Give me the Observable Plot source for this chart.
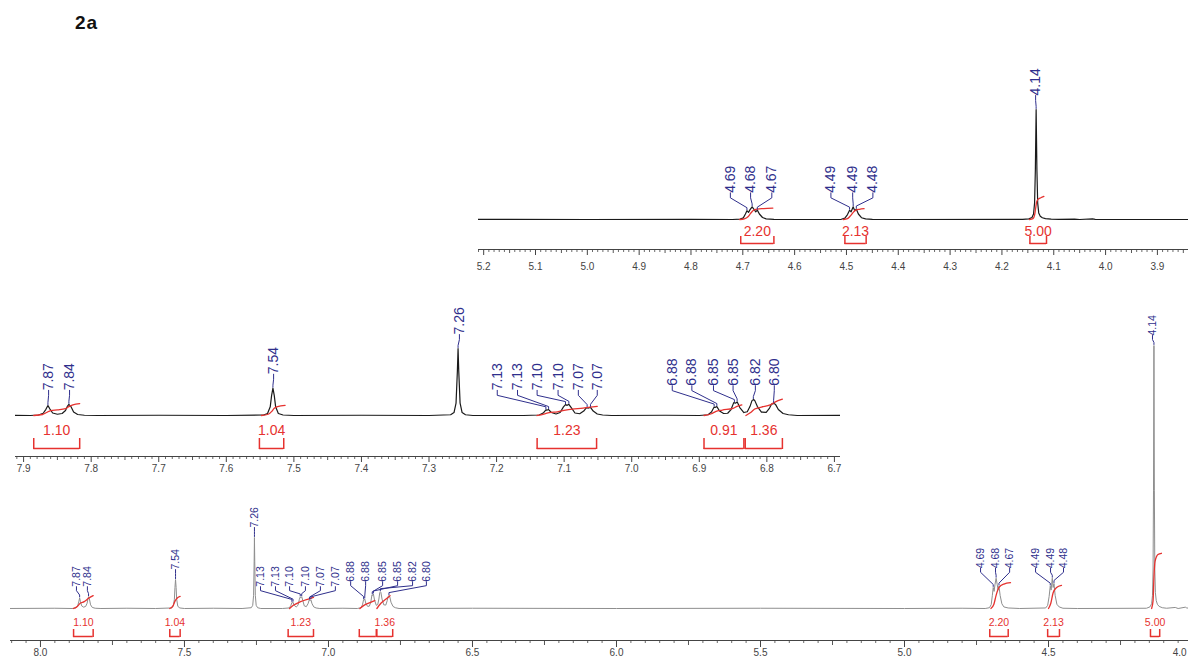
<!DOCTYPE html>
<html><head><meta charset="utf-8">
<script src="https://cdn.jsdelivr.net/npm/d3@7"></script>
<script src="https://cdn.jsdelivr.net/npm/@observablehq/plot@0.6"></script>
<style>
html,body{margin:0;padding:0;background:#fff;}
#wrap{position:relative;width:1188px;height:657px;overflow:hidden;background:#fff;}
#wrap svg{position:absolute;left:0;top:0;background:transparent !important;}
#title{position:absolute;left:75px;top:12px;font:bold 19px "Liberation Sans",Arial,sans-serif;letter-spacing:1px;color:#111;z-index:5;}
</style></head><body>
<div id="wrap"><div id="title">2a</div></div>
<script>
// ---- spectrum trace: [ppm, intensity] (4.14 singlet = 100)
const spectrum = [
[8.11,0],[7.95,0.1],[7.89,0],
[7.878,0.2],[7.871,0.9],[7.867,2.5],[7.864,4.0],[7.861,2.6],[7.857,1.0],[7.850,0.5],
[7.843,0.8],[7.838,2.0],[7.835,3.8],[7.833,4.5],[7.830,3.6],[7.826,1.4],[7.820,0.4],[7.810,0.1],[7.790,0],
[7.700,0.1],[7.600,0],
[7.545,0.2],[7.539,0.8],[7.535,3.5],[7.533,8],[7.531,11],[7.529,8],[7.527,3.5],[7.523,0.8],[7.516,0.2],[7.500,0],
[7.400,0.1],[7.300,0],
[7.268,0.3],[7.263,1.2],[7.260,5],[7.258,18],[7.257,27],[7.256,18],[7.254,5],[7.251,1.2],[7.246,0.3],[7.235,0],
[7.160,0],
[7.137,0.2],[7.131,1.0],[7.127,2.3],[7.125,2.2],[7.123,2.4],[7.119,1.2],[7.112,0.6],
[7.106,1.2],[7.101,3.5],[7.098,4.4],[7.0955,4.1],[7.093,4.5],[7.089,3.0],[7.084,1.0],[7.077,0.7],
[7.071,1.8],[7.067,3.2],[7.064,3.0],[7.061,3.3],[7.057,1.8],[7.051,0.6],[7.043,0.2],[7.030,0],
[6.950,0.1],[6.900,0],
[6.887,0.3],[6.882,1.4],[6.878,3.4],[6.876,3.3],[6.874,3.6],[6.870,1.8],[6.864,0.8],[6.858,0.9],
[6.853,2.4],[6.849,5.2],[6.846,5.0],[6.844,5.5],[6.840,3.2],[6.834,1.2],[6.829,1.5],
[6.825,3.6],[6.822,6.0],[6.820,6.4],[6.818,6.1],[6.814,3.6],[6.808,1.4],[6.801,1.3],
[6.796,3.0],[6.793,4.6],[6.790,4.9],[6.787,4.4],[6.783,2.4],[6.776,0.8],[6.768,0.3],[6.755,0],
[6.500,0.1],[6.000,0],[5.500,0.1],[5.000,0],[4.800,0.1],[4.720,0],
[4.705,0.3],[4.699,1.5],[4.695,5],[4.692,8],[4.689,6.5],[4.686,9],[4.682,11.5],[4.678,9],[4.675,7],[4.672,8.5],[4.668,5],[4.662,1.8],[4.655,0.6],[4.640,0.2],[4.600,0],
[4.510,0.2],[4.503,1.2],[4.498,4.5],[4.494,8.5],[4.491,7],[4.487,11.5],[4.484,8],[4.481,9.5],[4.477,5],[4.471,1.6],[4.463,0.6],[4.450,0.1],[4.400,0],
[4.160,0.1],[4.148,0.6],[4.142,1.8],[4.139,5],[4.137,15],[4.1355,45],[4.134,100],[4.1325,45],[4.131,15],[4.129,6],[4.126,3],[4.122,1.6],[4.116,0.8],[4.105,0.3],[4.090,0.1],[4.060,0.4],[4.050,0],[4.025,0.5],[4.020,0.2],[4.000,0],[3.840,0]
];

// ---- peak labels
const peakLabels = ["7.87","7.84","7.54","7.26","7.13","7.13","7.10","7.10","7.07","7.07","6.88","6.88","6.85","6.85","6.82","6.80","4.69","4.68","4.67","4.49","4.49","4.48","4.14"];
const peakShift  = [7.864,7.833,7.531,7.257,7.127,7.123,7.098,7.093,7.066,7.061,6.878,6.874,6.848,6.844,6.820,6.790,4.692,4.682,4.672,4.494,4.487,4.481,4.134];
const peakHeight = [4.0,4.5,11,27,2.3,2.4,4.4,4.5,3.2,3.3,3.4,3.6,5.2,5.5,6.4,4.9,8,11.5,8.5,8.5,11.5,9.5,100];
const peakGroup  = [1,1,2,3,4,4,4,4,4,4,5,5,5,5,5,5,6,6,6,7,7,7,8];
const N = null;
const topLabelAt = [N,N,N,N,N,N,N,N,N,N,N,N,N,N,N,N,4.724,4.685,4.644,4.530,4.488,4.449,4.135];
const midLabelAt = [7.863,7.832,7.530,7.255,7.199,7.169,7.140,7.109,7.079,7.051,6.940,6.911,6.879,6.850,6.817,6.789,N,N,N,N,N,N,N];
const botLabelAt = [7.875,7.837,7.531,7.257,7.236,7.184,7.135,7.080,7.028,6.976,6.923,6.871,6.812,6.760,6.708,6.660,4.736,4.684,4.635,4.545,4.493,4.448,4.139];

// ---- integrals
const integralLabels = ["1.10","1.04","1.23","0.91","1.36","2.20","2.13","5.00"];
const integralFrom   = [7.885,7.551,7.140,6.893,6.832,4.704,4.503,4.146];
const integralTo     = [7.817,7.515,7.052,6.834,6.777,4.640,4.462,4.114];

const topIntegralCurves = {
  "2.20": [[4.706,0],[4.697,0.6],[4.690,2.5],[4.685,5.5],[4.680,8.2],[4.672,9.4],[4.660,9.9],[4.642,10.4]],
  "2.13": [[4.506,0],[4.498,0.8],[4.492,3.5],[4.487,6.5],[4.482,8.5],[4.475,9.3],[4.466,9.8]],
  "5.00": [[4.147,0],[4.140,0.8],[4.137,4],[4.135,10],[4.133,16],[4.130,18.5],[4.125,19.8],[4.119,21]]
};
const midIntegralCurves = {
  "1.10": [[7.885,0],[7.872,0.4],[7.866,1.2],[7.860,2.0],[7.850,2.3],[7.838,2.8],[7.833,3.6],[7.827,4.3],[7.817,4.8]],
  "1.04": [[7.548,0],[7.538,0.5],[7.533,1.6],[7.529,2.9],[7.524,3.6],[7.513,4.1]],
  "1.23": [[7.140,0],[7.130,0.6],[7.122,1.2],[7.110,1.5],[7.098,2.2],[7.088,2.6],[7.072,3.0],[7.062,3.4],[7.051,3.7]],
  "0.91": [[6.893,0],[6.882,0.7],[6.876,1.6],[6.866,2.2],[6.850,2.9],[6.844,3.7],[6.837,4.3]],
  "1.36": [[6.831,0],[6.824,1.2],[6.818,2.6],[6.808,3.4],[6.795,4.3],[6.788,5.4],[6.777,6.6]]
};
const botIntegralCurves = {
  "1.10": [[7.886,0],[7.872,0.8],[7.862,2.0],[7.848,2.6],[7.834,3.8],[7.817,4.9]],
  "1.04": [[7.551,0],[7.540,1.0],[7.532,3.0],[7.524,4.1],[7.515,4.6]],
  "1.23": [[7.135,0],[7.122,1.2],[7.097,2.6],[7.070,3.6],[7.052,4.2]],
  "0.91": [[6.891,0],[6.877,1.2],[6.850,2.5],[6.839,3.0]],
  "1.36": [[6.832,0],[6.818,2.0],[6.800,3.6],[6.786,4.9]],
  "2.20": [[4.700,0],[4.690,1.5],[4.682,5],[4.672,8],[4.655,9.3],[4.632,9.8]],
  "2.13": [[4.500,0],[4.492,2],[4.484,6],[4.472,8],[4.455,8.8]],
  "5.00": [[4.142,0],[4.137,3],[4.134,12],[4.130,18],[4.120,20.5],[4.108,21]]
};

// ---- axis tick labels
const topTicks = [5.2,5.1,5.0,4.9,4.8,4.7,4.6,4.5,4.4,4.3,4.2,4.1,4.0,3.9];
const midTicks = [7.9,7.8,7.7,7.6,7.5,7.4,7.3,7.2,7.1,7.0,6.9,6.8,6.7];
const botTicks = [8.0,7.5,7.0,6.5,6.0,5.5,5.0,4.5,4.0];

// ---- layout
const W = 1188, H = 657;
const NAVY = "#2f2f8c", RED = "#e6322f", AXIS = "#444";
const FONT = "'Liberation Sans', Arial, sans-serif";
const panels = [
  {domain:[5.21,3.84], left:478, right:1188, base:219, axis:249, topY:40, k:1.1,
   ticks:topTicks, minor:0.01, medium:0.05, sizes:[3,4,6], pad:7, stroke:"#1a1a1a", sw:1.2,
   labelAt:topLabelAt, curves:topIntegralCurves, lblFont:14, lblGap:14, lblMin:0, e1:5,
   intFont:14, intY:12, brH:24, brTop:17, brBot:25, hide:[]},
  {domain:[7.912,6.691], left:15, right:840, base:415, axis:456, topY:290, k:2.48,
   ticks:midTicks, minor:0.01, medium:0.05, sizes:[3,4,6], pad:2, stroke:"#1a1a1a", sw:1.2,
   labelAt:midLabelAt, curves:midIntegralCurves, lblFont:14, lblGap:14, lblMin:25, e1:5,
   intFont:14, intY:15, brH:33, brTop:23, brBot:34, hide:[]},
  {domain:[8.104,4.014], left:10, right:1188, base:608, axis:640, topY:300, k:2.63,
   ticks:botTicks, minor:0.05, medium:0.25, sizes:[3,5,7], pad:1, stroke:"#8e8e8e", sw:1,
   labelAt:botLabelAt, curves:botIntegralCurves, lblFont:10.5, lblGap:10, lblMin:16, e1:4,
   intFont:10.5, intY:14, brH:28, brTop:21, brBot:29, hide:["0.91"]}
];

function steps(lo, hi, step) {
  const a = Math.ceil(lo / step - 1e-6), b = Math.floor(hi / step + 1e-6);
  return d3.range(a, b + 1).map(i => +(i * step).toFixed(3));
}

const wrap = document.getElementById("wrap");
for (const p of panels) {
  const lo = Math.min(...p.domain), hi = Math.max(...p.domain);
  const u = v => v / p.k; // px -> data units
  const yMin = -u(p.axis - p.base), yMax = u(p.base - p.topY);
  const inView = t => t >= lo && t <= hi;

  // trace points in view (with neighbours)
  const keep = new Set();
  spectrum.forEach((d, i) => { if (inView(d[0])) { keep.add(i); keep.add(i - 1); keep.add(i + 1); } });
  const trace = spectrum.filter((d, i) => keep.has(i));

  // ticks
  const majorKeys = new Set(p.ticks.map(t => t.toFixed(3)));
  const mediumT = steps(lo, hi, p.medium).filter(t => !majorKeys.has(t.toFixed(3)));
  const medKeys = new Set(mediumT.map(t => t.toFixed(3)));
  const minorT = steps(lo, hi, p.minor).filter(t => !majorKeys.has(t.toFixed(3)) && !medKeys.has(t.toFixed(3)));
  const edgeTicks = p.ticks.filter(t => !inView(t));

  // integrals in view
  const ints = integralLabels.map((l, i) => ({label: l, from: integralFrom[i], to: integralTo[i]}))
    .filter(d => d.from <= hi && d.to >= lo);
  const ends = ints.flatMap(d => [d.from, d.to]);
  const intText = ints.filter(d => !p.hide.includes(d.label));
  const curvePts = Object.entries(p.curves).flatMap(([id, pts]) => pts.map(q => ({id, x: q[0], y: q[1]})));

  // peak labels in view
  const labs = peakLabels.map((t, i) => ({i, text: t, at: p.labelAt[i], peak: peakShift[i], h: peakHeight[i], g: peakGroup[i]}))
    .filter(d => d.at != null);
  const gmax = d3.rollup(labs, v => d3.max(v, d => d.h), d => d.g);
  labs.forEach(d => { d.level = u(Math.max(p.lblMin, gmax.get(d.g) * p.k + p.lblGap)); });
  const conn = labs.flatMap(d => {
    const top1 = d.level - u(p.e1);
    const bend = Math.min(d.h + u(3), top1);
    return [
      {id: d.i, x: d.at, y: d.level},
      {id: d.i, x: d.at, y: top1},
      {id: d.i, x: d.peak, y: bend},
      {id: d.i, x: d.peak, y: d.h + u(1)}
    ];
  });

  const svg = Plot.plot({
    width: W, height: H,
    marginLeft: p.left, marginRight: W - p.right, marginTop: p.topY, marginBottom: H - p.axis,
    x: {domain: p.domain, label: null},
    y: {domain: [yMin, yMax], axis: null},
    style: {background: "transparent", fontFamily: FONT, color: AXIS, overflow: "visible"},
    marks: [
      Plot.ruleY([yMin], {stroke: AXIS, strokeWidth: 1}),
      Plot.ruleX(minorT, {x: d => d, y1: yMin, y2: yMin - u(p.sizes[0]), stroke: AXIS, strokeWidth: 0.8}),
      Plot.ruleX(mediumT, {x: d => d, y1: yMin, y2: yMin - u(p.sizes[1]), stroke: AXIS, strokeWidth: 0.9}),
      Plot.axisX(p.ticks, {anchor: "bottom", tickSize: p.sizes[2], tickPadding: p.pad,
        tickFormat: d => inView(d) ? d.toFixed(1) : "", fontSize: 10, label: null, stroke: AXIS, fill: AXIS}),
      Plot.text(edgeTicks, {x: d => d, y: yMin, text: d => d.toFixed(1), textAnchor: "end", lineAnchor: "top",
        dx: -6, dy: p.sizes[2] + p.pad, fontSize: 10, fill: AXIS}),
      Plot.line(trace, {x: d => d[0], y: d => d[1], stroke: p.stroke, strokeWidth: p.sw, clip: true}),
      Plot.line(curvePts, {x: "x", y: "y", z: "id", stroke: RED, strokeWidth: 1.3, curve: "monotone-x"}),
      Plot.ruleY(ints, {x1: "from", x2: "to", y: -u(p.brH), stroke: RED, strokeWidth: 1.5}),
      Plot.ruleX(ends, {x: d => d, y1: -u(p.brTop), y2: -u(p.brBot), stroke: RED, strokeWidth: 1.5}),
      Plot.text(intText, {x: d => (d.from + d.to) / 2, y: -u(p.intY), text: "label", fill: RED, fontSize: p.intFont}),
      Plot.line(conn, {x: "x", y: "y", z: "id", stroke: NAVY, strokeWidth: 1}),
      Plot.text(labs, {x: "at", y: "level", text: "text", rotate: -90, textAnchor: "start", fill: NAVY, fontSize: p.lblFont})
    ]
  });
  wrap.appendChild(svg);
}
</script>
</body></html>
